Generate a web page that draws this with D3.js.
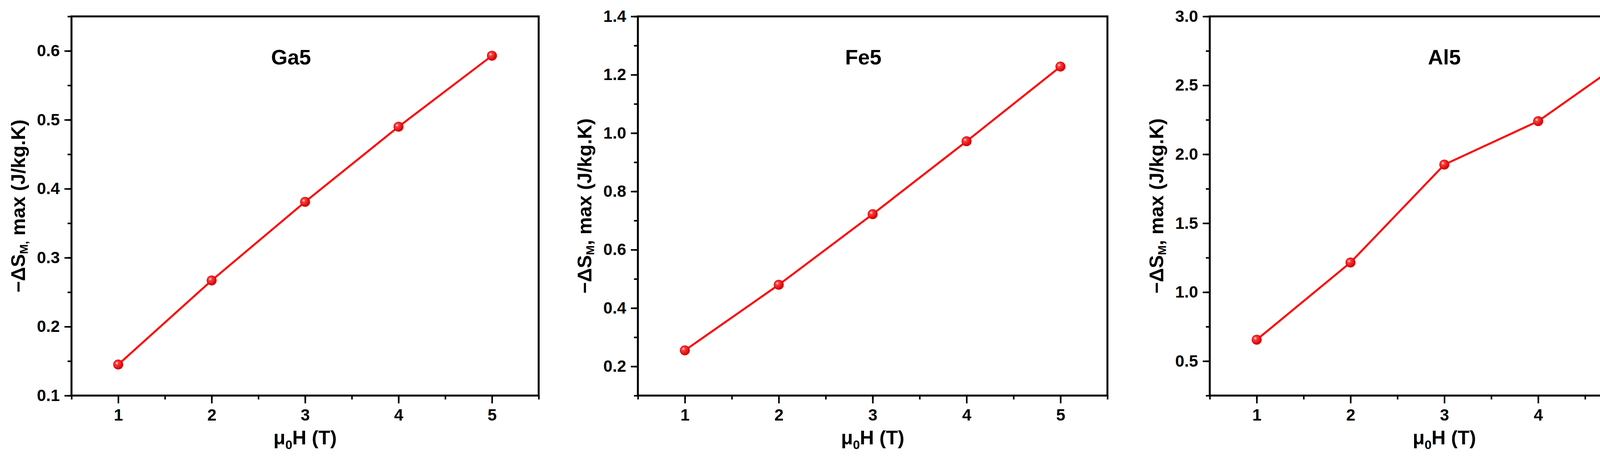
<!DOCTYPE html>
<html><head><meta charset="utf-8">
<script src="https://cdn.jsdelivr.net/npm/d3@7"></script>
<style>body{margin:0;background:#fff}text{font-family:"Liberation Sans",Arial,sans-serif;font-weight:bold}</style>
</head><body><svg id="c" width="4338" height="1178"></svg>
<script>
const fieldT = [1, 2, 3, 4, 5];
const ga5 = [0.145, 0.267, 0.381, 0.490, 0.593];
const fe5 = [0.255, 0.480, 0.722, 0.972, 1.228];
const al5 = [0.655, 1.215, 1.925, 2.240, 2.720];
const names = ["Ga5", "Fe5", "Al5"];
const yDomains = [[0.1, 0.65], [0.1, 1.4], [0.25, 3.0]];
const yMajor = [[0.1,0.2,0.3,0.4,0.5,0.6],[0.2,0.4,0.6,0.8,1.0,1.2,1.4],[0.5,1.0,1.5,2.0,2.5,3.0]];
const yMinorStep = [0.05, 0.1, 0.25];
const titleX = [2.85, 2.9, 3.0];
const series = [ga5, fe5, al5];

const svg = d3.select("#c");
const defs = svg.append("defs");
const g = defs.append("radialGradient").attr("id","ball").attr("cx","35%").attr("cy","35%").attr("r","65%");
g.append("stop").attr("offset","0%").attr("stop-color","#fff");
g.append("stop").attr("offset","25%").attr("stop-color","#ff4040");
g.append("stop").attr("offset","100%").attr("stop-color","#d00000");

const lefts = [183, 1633, 3097], rights = [1379, 2835, 4298];
const plotTop = 42, plotBottom = 1013;

series.forEach((vals, i) => {
  const x = d3.scaleLinear().domain([0.5, 5.5]).range([lefts[i], rights[i]]);
  const y = d3.scaleLinear().domain(yDomains[i]).range([plotBottom, plotTop]);
  const p = svg.append("g");
  const xMinor = d3.range(0.5, 5.51, 0.5);
  const yMin = [];
  for (let v = yDomains[i][0]; v <= yDomains[i][1] + 1e-9; v += yMinorStep[i]) yMin.push(+v.toFixed(3));
  p.append("g").attr("transform",`translate(0,${plotBottom})`)
    .call(d3.axisBottom(x).tickValues(xMinor).tickSize(10).tickFormat(""))
    .call(a=>{a.select(".domain").remove();a.selectAll("line").attr("stroke-width",4);});
  p.append("g").attr("transform",`translate(${lefts[i]},0)`)
    .call(d3.axisLeft(y).tickValues(yMin).tickSize(10).tickFormat(""))
    .call(a=>{a.select(".domain").remove();a.selectAll("line").attr("stroke-width",4);});
  p.append("g").attr("transform",`translate(0,${plotBottom})`)
    .call(d3.axisBottom(x).tickValues(fieldT).tickSize(20).tickPadding(14).tickFormat(d3.format("d")))
    .call(a=>{a.select(".domain").remove();a.selectAll("line").attr("stroke-width",4);
      a.selectAll("text").attr("font-size",42).attr("fill","#000");});
  p.append("g").attr("transform",`translate(${lefts[i]},0)`)
    .call(d3.axisLeft(y).tickValues(yMajor[i]).tickSize(18).tickPadding(12).tickFormat(d3.format(".1f")))
    .call(a=>{a.select(".domain").remove();a.selectAll("line").attr("stroke-width",4);
      a.selectAll("text").attr("font-size",42).attr("fill","#000");});
  p.append("rect").attr("x",lefts[i]).attr("y",plotTop).attr("width",rights[i]-lefts[i]).attr("height",plotBottom-plotTop)
    .attr("fill","none").attr("stroke","#000").attr("stroke-width",5);
  p.append("path").datum(vals).attr("fill","none").attr("stroke","#ff0000").attr("stroke-width",5)
    .attr("d", d3.line().x((d,j)=>x(fieldT[j])).y(d=>y(d)));
  p.selectAll("circle").data(vals).join("circle").attr("cx",(d,j)=>x(fieldT[j])).attr("cy",d=>y(d))
    .attr("r",12).attr("fill","url(#ball)").attr("stroke","#e00000").attr("stroke-width",1.5);
  p.append("text").attr("x",x(titleX[i])).attr("y",165).attr("text-anchor","middle").attr("font-size",54).text(names[i]);
  const xt = p.append("text").attr("x",(lefts[i]+rights[i])/2).attr("y",1138).attr("text-anchor","middle").attr("font-size",50);
  xt.append("tspan").text("μ");
  xt.append("tspan").attr("font-size",32).attr("dy",12).text("0");
  xt.append("tspan").attr("dy",-12).text("H (T)");
  const yt = p.append("text").attr("transform",`translate(${lefts[i]-132},${(plotTop+plotBottom)/2}) rotate(-90)`)
    .attr("text-anchor","middle").attr("font-size",50).attr("dominant-baseline","middle");
  yt.append("tspan").text("−ΔS");
  yt.append("tspan").attr("font-size",30).attr("dy",12).text(i===0?"M,":"M");
  yt.append("tspan").attr("dy",-12).text(i===0?" max (J/kg.K)":", max (J/kg.K)");
});
</script></body></html>
